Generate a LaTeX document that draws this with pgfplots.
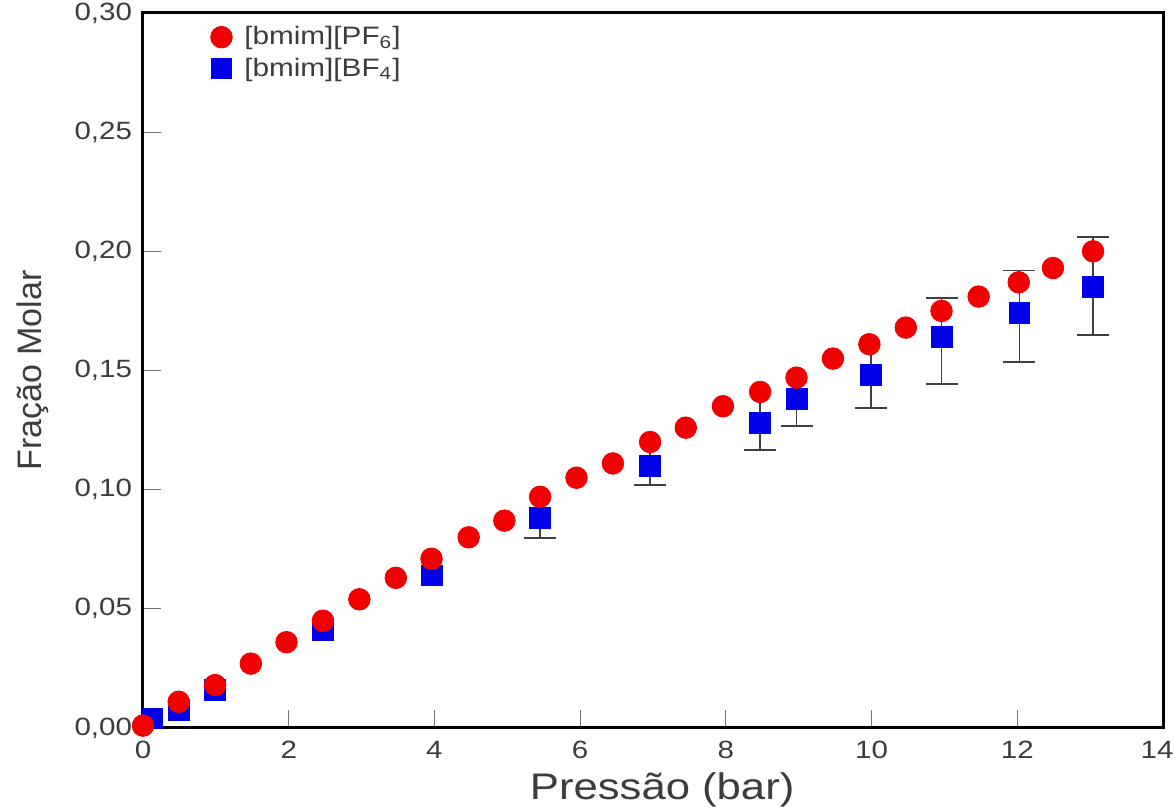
\documentclass[border=0pt]{standalone}
\usepackage{fontspec}
\setmainfont[FakeStretch=1.18]{Liberation Sans}
\newfontfamily\plainfont{Liberation Sans}
\usepackage{pgfplots}
\usepackage{pgfplotstable}
\pgfplotsset{compat=1.18}
\usetikzlibrary{calc}
\definecolor{mred}{RGB}{240,0,0}
\definecolor{mblue}{RGB}{0,0,235}
\definecolor{txt}{RGB}{60,60,60}

\pgfplotstableread{
x y
0.00 0.001
0.49 0.011
0.99 0.018
1.48 0.027
1.97 0.036
2.47 0.045
2.97 0.054
3.47 0.063
3.96 0.071
4.47 0.080
4.96 0.087
5.45 0.097
5.95 0.105
6.45 0.111
6.96 0.120
7.45 0.126
7.96 0.135
8.47 0.141
8.97 0.147
9.47 0.155
9.97 0.161
10.47 0.168
10.96 0.175
11.47 0.181
12.02 0.187
12.49 0.193
13.04 0.200
}\pfsix

\pgfplotstableread{
x y
0.13 0.004
0.49 0.0075
0.99 0.016
2.47 0.041
3.96 0.064
5.45 0.088
6.96 0.110
8.47 0.128
8.97 0.138
9.99 0.148
10.96 0.164
12.03 0.174
13.04 0.185
}\bffour

% lower errors (with caps)
\pgfplotstableread{
x y e
5.45 0.088 0.0084
6.96 0.110 0.008
8.47 0.128 0.0113
8.97 0.138 0.0113
9.99 0.148 0.0138
10.96 0.164 0.0197
12.03 0.174 0.0205
13.04 0.185 0.020
}\bferrlow

% upper errors hidden under the red circles (no visible cap)
\pgfplotstableread{
x y e
5.45 0.088 0.008
6.96 0.110 0.008
8.47 0.128 0.011
8.97 0.138 0.009
9.99 0.148 0.012
}\bferrhid

% upper errors with visible caps
\pgfplotstableread{
x y e
10.96 0.164 0.0163
12.03 0.174 0.018
13.04 0.185 0.021
}\bferrup

\begin{document}
\begin{tikzpicture}
\begin{axis}[
  set layers,
  scale only axis,
  width=510pt, height=357.5pt,
  xmin=0, xmax=14, ymin=0, ymax=0.30,
  xtick={0,2,4,6,8,10,12,14},
  xticklabels={0,2,4,6,8,10,12,{\makebox[0pt]{14\hspace*{6pt}}}},
  ytick={0,0.05,0.10,0.15,0.20,0.25,0.30},
  xtick pos=lower, ytick pos=left, tick align=inside,
  major tick length=9pt,
  tick style={black!55, line width=0.6pt},
  axis line style={line width=1.5pt},
  /pgf/number format/assume math mode=true,
  yticklabel style={/pgf/number format/fixed, /pgf/number format/fixed zerofill, /pgf/number format/precision=2, /pgf/number format/use comma, xshift=-2pt},
  xticklabel style={yshift=-3pt},
  ticklabel style={font=\fontsize{12.5}{14}\selectfont, text=txt},
  xlabel={Pressão (bar)}, ylabel={Fração Molar},
  xlabel style={font=\fontsize{18.5}{21}\selectfont, text=txt, at={(axis description cs:0.509,-0.087)}, anchor=center},
  ylabel style={font=\plainfont\fontsize{17}{20}\selectfont, text=txt, at={(axis description cs:-0.108,0.5)}, anchor=center},
  clip=false,
  reverse legend,
  legend style={draw=none, fill=none, at={(axis description cs:0.064,0.99)}, anchor=north west,
    font=\fontsize{12.6}{14}\selectfont, text=txt, row sep=1pt, inner sep=1pt,
    /tikz/every odd column/.append style={column sep=4pt}},
  legend cell align=left,
]
\addplot[forget plot, only marks, mark=none,
  error bars/.cd, y dir=minus, y explicit,
  error mark=-,
  error bar style={line width=0.8pt, black!75},
  error mark options={rotate=90, black!75, mark size=8pt, line width=0.8pt}]
  table[x=x, y=y, y error=e] {\bferrlow};
\addplot[forget plot, only marks, mark=none,
  error bars/.cd, y dir=plus, y explicit,
  error mark=none,
  error bar style={line width=0.8pt, black!75}]
  table[x=x, y=y, y error=e] {\bferrhid};
\addplot[forget plot, only marks, mark=none,
  error bars/.cd, y dir=plus, y explicit,
  error mark=-,
  error bar style={line width=0.8pt, black!75},
  error mark options={rotate=90, black!75, mark size=8pt, line width=0.8pt}]
  table[x=x, y=y, y error=e] {\bferrup};
\addplot[on layer=axis foreground, only marks, mark=square*, mark size=5.2pt, color=mblue, fill=mblue] table[x=x, y=y] {\bffour};
\addlegendentry{[bmim][BF\textsubscript{4}]}
\addplot[on layer=axis foreground, only marks, mark=*, mark size=5.4pt, color=mred, fill=mred] table[x=x, y=y] {\pfsix};
\addlegendentry{[bmim][PF\textsubscript{6}]}
\end{axis}
\pgfresetboundingbox
\path[use as bounding box] ($(current axis.south west)+(-71.5pt,-42pt)$) rectangle ($(current axis.north east)+(5.5pt,6.5pt)$);
\end{tikzpicture}
\end{document}
